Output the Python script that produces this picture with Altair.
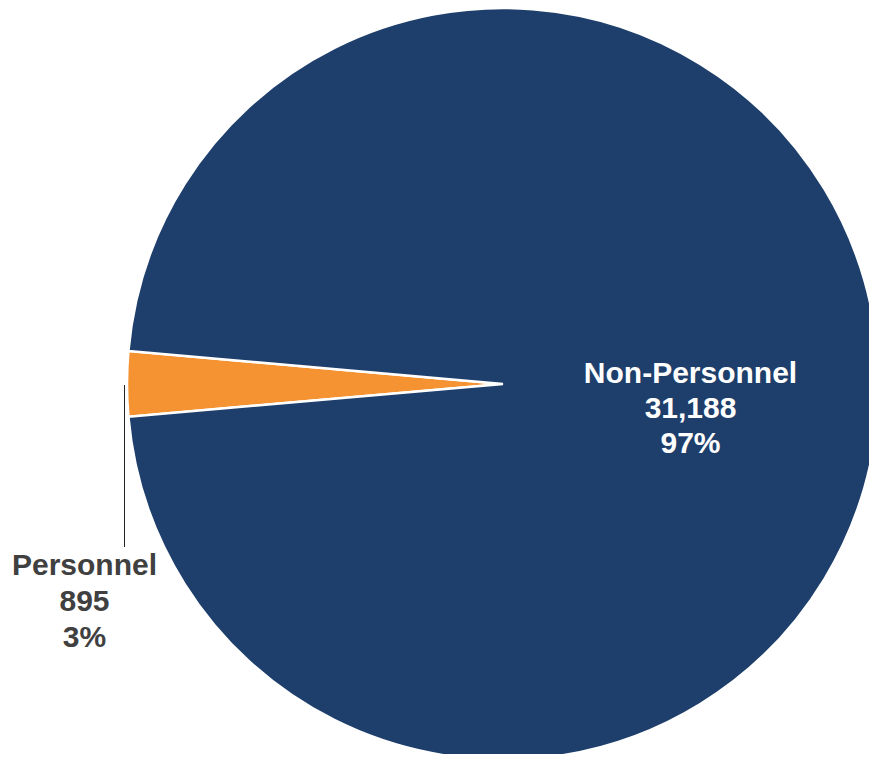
import math
import altair as alt
import pandas as pd

categories = ["Personnel", "Non-Personnel"]
values = [895, 31188]
colors = ["#F59232", "#1E3F6C"]

total = sum(values)
labels = [f"{c}\n{v:,}\n{round(v / total * 100)}%" for c, v in zip(categories, values)]
df = pd.DataFrame({
    "category": categories,
    "value": values,
    "order": list(range(len(categories))),
    "label": labels,
})

start = math.radians(265)
base = alt.Chart(df)

pie = base.mark_arc(radius=376, stroke="white", strokeWidth=2.5).encode(
    theta=alt.Theta("value:Q", stack=True,
                    scale=alt.Scale(range=[start, start + 2 * math.pi])),
    color=alt.Color("category:N", scale=alt.Scale(domain=categories, range=colors), legend=None),
    order=alt.Order("order:Q"),
    x=alt.value(495),
    y=alt.value(376),
)

np_text = base.transform_filter("datum.category == 'Non-Personnel'").mark_text(
    font="Liberation Sans", fontSize=30, fontWeight="bold", color="white",
    align="center", baseline="alphabetic", lineBreak="\n", lineHeight=35,
).encode(text="label:N", x=alt.value(682.5), y=alt.value(375))

p_text = base.transform_filter("datum.category == 'Personnel'").mark_text(
    font="Liberation Sans", fontSize=30, fontWeight="bold", color="#404040",
    align="center", baseline="alphabetic", lineBreak="\n", lineHeight=36,
).encode(text="label:N", x=alt.value(76.5), y=alt.value(567))

leader = base.transform_filter("datum.category == 'Personnel'").mark_rule(
    color="#222222", strokeWidth=1
).encode(x=alt.value(116.5), y=alt.value(377), y2=alt.value(539))

chart = alt.layer(pie, leader, np_text, p_text).properties(
    width=861, height=746, padding=0, autosize=alt.AutoSizeParams(type="none")
).configure_view(stroke=None)

chart.save("out.html", embed_options={"renderer": "svg", "actions": False})
